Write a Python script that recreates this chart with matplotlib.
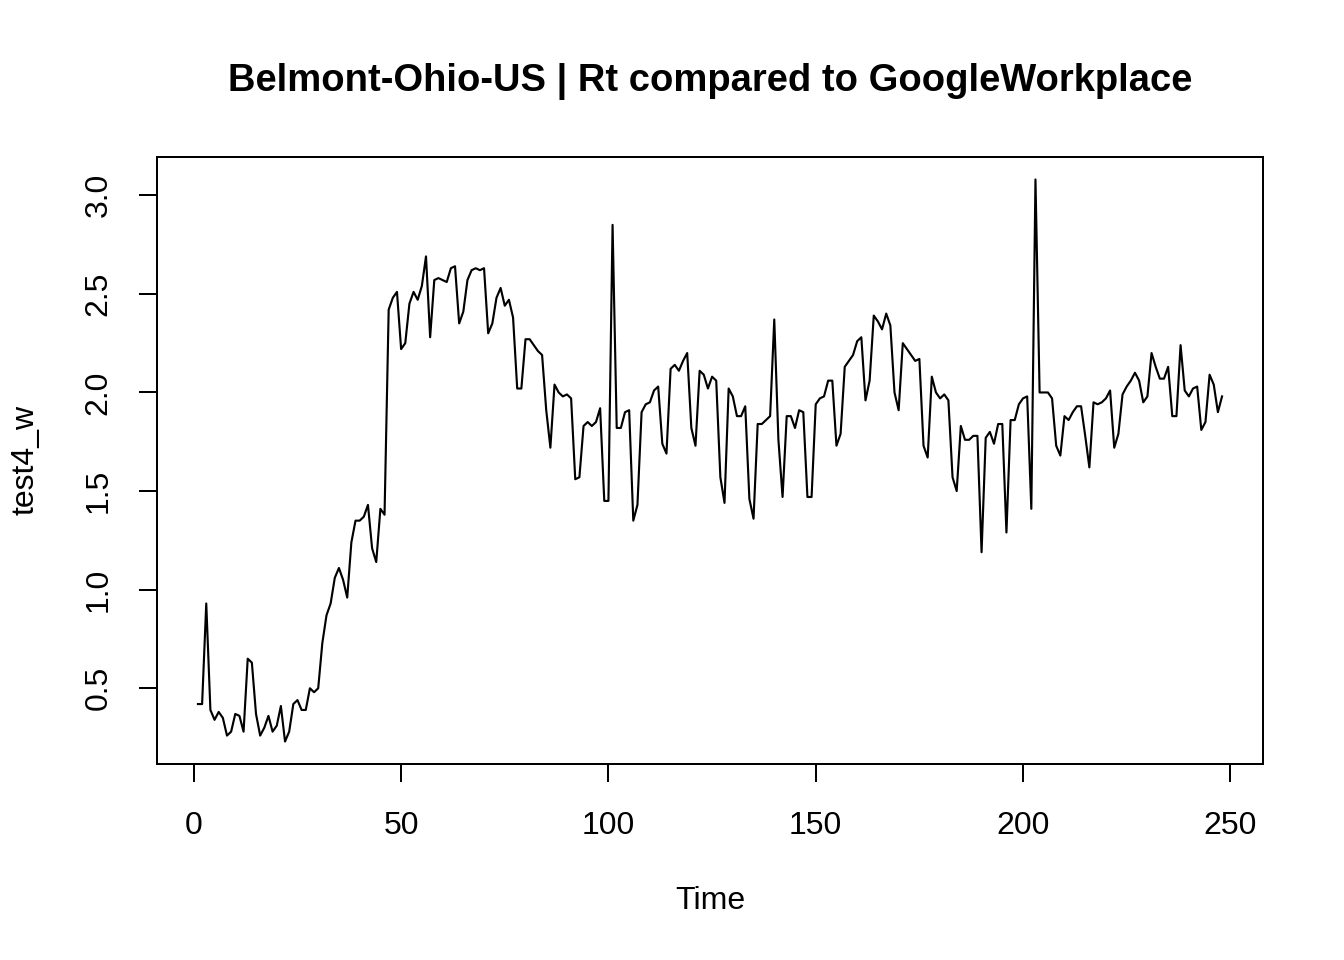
import matplotlib
matplotlib.use("Agg")
import matplotlib.pyplot as plt
import numpy as np

plt.rcParams['font.family'] = ['Liberation Sans', 'DejaVu Sans']

# Rt series, t = 1..248
test4_w = [
    0.42, 0.42, 0.93, 0.39, 0.34, 0.38, 0.35, 0.26, 0.28, 0.37,
    0.36, 0.28, 0.65, 0.63, 0.37, 0.26, 0.30, 0.36, 0.28, 0.31,
    0.41, 0.23, 0.28, 0.42, 0.44, 0.39, 0.39, 0.50, 0.48, 0.50,
    0.73, 0.87, 0.93, 1.06, 1.11, 1.05, 0.96, 1.24, 1.35, 1.35,
    1.37, 1.43, 1.21, 1.14, 1.41, 1.38, 2.42, 2.48, 2.51, 2.22,
    2.25, 2.45, 2.51, 2.47, 2.54, 2.69, 2.28, 2.57, 2.58, 2.57,
    2.56, 2.63, 2.64, 2.35, 2.41, 2.57, 2.62, 2.63, 2.62, 2.63,
    2.30, 2.35, 2.48, 2.53, 2.44, 2.47, 2.38, 2.02, 2.02, 2.27,
    2.27, 2.24, 2.21, 2.19, 1.91, 1.72, 2.04, 2.00, 1.98, 1.99,
    1.97, 1.56, 1.57, 1.83, 1.85, 1.83, 1.85, 1.92, 1.45, 1.45,
    2.85, 1.82, 1.82, 1.90, 1.91, 1.35, 1.43, 1.90, 1.94, 1.95,
    2.01, 2.03, 1.74, 1.69, 2.12, 2.14, 2.11, 2.16, 2.20, 1.82,
    1.73, 2.11, 2.09, 2.02, 2.08, 2.06, 1.57, 1.44, 2.02, 1.98,
    1.88, 1.88, 1.93, 1.46, 1.36, 1.84, 1.84, 1.86, 1.88, 2.37,
    1.76, 1.47, 1.88, 1.88, 1.82, 1.91, 1.90, 1.47, 1.47, 1.94,
    1.97, 1.98, 2.06, 2.06, 1.73, 1.79, 2.13, 2.16, 2.19, 2.26,
    2.28, 1.96, 2.06, 2.39, 2.36, 2.32, 2.40, 2.34, 2.00, 1.91,
    2.25, 2.22, 2.19, 2.16, 2.17, 1.73, 1.67, 2.08, 2.00, 1.97,
    1.99, 1.96, 1.57, 1.50, 1.83, 1.76, 1.76, 1.78, 1.78, 1.19,
    1.77, 1.80, 1.74, 1.84, 1.84, 1.29, 1.86, 1.86, 1.94, 1.97,
    1.98, 1.41, 3.08, 2.00, 2.00, 2.00, 1.97, 1.73, 1.68, 1.88,
    1.86, 1.90, 1.93, 1.93, 1.78, 1.62, 1.95, 1.94, 1.95, 1.97,
    2.01, 1.72, 1.79, 1.99, 2.03, 2.06, 2.10, 2.06, 1.95, 1.98,
    2.20, 2.13, 2.07, 2.07, 2.13, 1.88, 1.88, 2.24, 2.01, 1.98,
    2.02, 2.03, 1.81, 1.85, 2.09, 2.04, 1.90, 1.98,
]
time = np.arange(1, len(test4_w) + 1)

x_ticks = [0, 50, 100, 150, 200, 250]
y_ticks = [0.5, 1.0, 1.5, 2.0, 2.5, 3.0]

fig = plt.figure(figsize=(7, 5), dpi=192)
ax = fig.add_axes([157/1344, 1 - 764/960, (1263-157)/1344, (764-157)/960])

ax.plot(time, test4_w, color='black', lw=0.8)

# R style 4% padding
xr = time.max() - time.min()
yr = max(test4_w) - min(test4_w)
ax.set_xlim(time.min() - 0.04*xr, time.max() + 0.04*xr)
ax.set_ylim(min(test4_w) - 0.04*yr, max(test4_w) + 0.04*yr)

ax.set_xticks(x_ticks)
ax.set_xticklabels([str(v) for v in x_ticks])
ax.set_yticks(y_ticks)
ax.set_yticklabels([f"{v:.1f}" for v in y_ticks], rotation=90, va='center')
ax.tick_params(axis='both', direction='out', length=6.8, width=0.75,
               labelsize=12)
ax.tick_params(axis='x', pad=11)
ax.tick_params(axis='y', pad=9.5)
for s in ax.spines.values():
    s.set_linewidth(0.75)

fig.text(710/1344, 1 - 81/960, "Belmont-Ohio-US | Rt compared to GoogleWorkplace",
         ha='center', va='center', fontsize=14.3, fontweight='bold')
fig.text(710/1344, 1 - 901/960, "Time", ha='center', va='center', fontsize=12)
fig.text(25/1344, 1 - 460/960, "test4_w", ha='center', va='center',
         fontsize=12, rotation=90)

fig.savefig("out.png", dpi=192)
